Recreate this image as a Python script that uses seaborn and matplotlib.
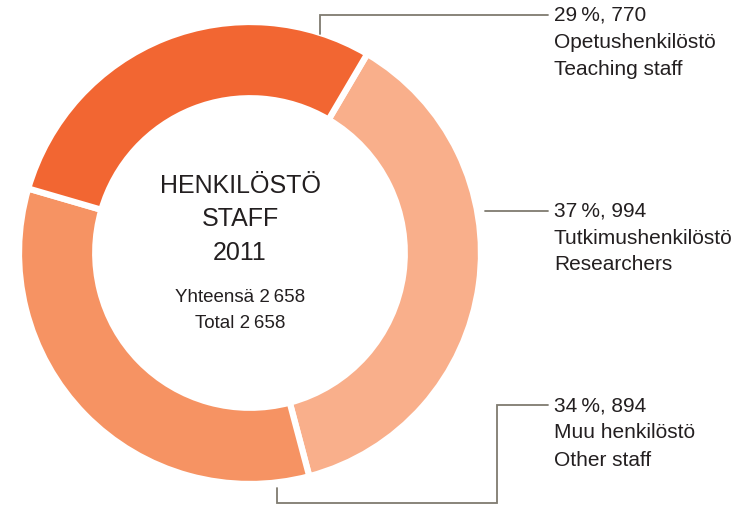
import matplotlib
matplotlib.use("Agg")
import matplotlib.pyplot as plt
import seaborn as sns

# data
groups_fi = ["Tutkimushenkilöstö", "Muu henkilöstö", "Opetushenkilöstö"]
groups_en = ["Researchers", "Other staff", "Teaching staff"]
counts = [994, 894, 770]
shares = [37, 34, 29]
colors = ["#F9AF8B", "#F69363", "#F26632"]

sns.set_theme(style="white")
plt.rcParams['font.family'] = ['Liberation Sans', 'DejaVu Sans']

W, H = 742, 509
fig = plt.figure(figsize=(W / 100, H / 100), dpi=100)
ax = fig.add_axes([0, 0, 1, 1])

# ring in pixel coords (y axis flipped afterwards)
cx, cy, R = 250, 253, 231
ax.pie(counts, colors=colors, startangle=-59.5, counterclock=True,
       center=(cx, cy), radius=R, frame=True,
       wedgeprops=dict(width=R * 0.33, edgecolor="white", linewidth=4.5))
ax.set_xlim(0, W)
ax.set_ylim(H, 0)
ax.set_aspect("equal")
ax.axis("off")

# centre text
txt = "#231F20"
ax.text(240, 186, "HENKILÖSTÖ", ha="center", va="center", fontsize=18, color=txt)
ax.text(240, 219, "STAFF", ha="center", va="center", fontsize=18, color=txt)
ax.text(240, 253, "2011", ha="center", va="center", fontsize=18, color=txt)
total = sum(counts)
tot_s = f"{total:,}".replace(",", "\u2009")
ax.text(240, 298, f"Yhteensä {tot_s}", ha="center", va="center", fontsize=13.5, color=txt)
ax.text(240, 323, f"Total {tot_s}", ha="center", va="center", fontsize=13.5, color=txt)

# leader lines
lc = "#7F7B70"
ax.plot([320, 320, 548], [34, 15, 15], color=lc, lw=1.3, solid_joinstyle="miter")
ax.plot([485, 548], [211, 211], color=lc, lw=1.3)
ax.plot([277, 277, 497, 497, 548], [488, 503, 503, 405, 405], color=lc, lw=1.3,
        solid_joinstyle="miter")

# labels
label_y = {"Opetushenkilöstö": 15, "Tutkimushenkilöstö": 211, "Muu henkilöstö": 406}
for fi, en, n, p in zip(groups_fi, groups_en, counts, shares):
    y0 = label_y[fi]
    ax.text(554, y0, f"{p}\u2009%, {n}", ha="left", va="center", fontsize=15, color=txt)
    ax.text(554, y0 + 27, fi, ha="left", va="center", fontsize=15, color=txt)
    ax.text(554, y0 + 54, en, ha="left", va="center", fontsize=15, color=txt)

fig.savefig("out.png", dpi=100, facecolor="white")
